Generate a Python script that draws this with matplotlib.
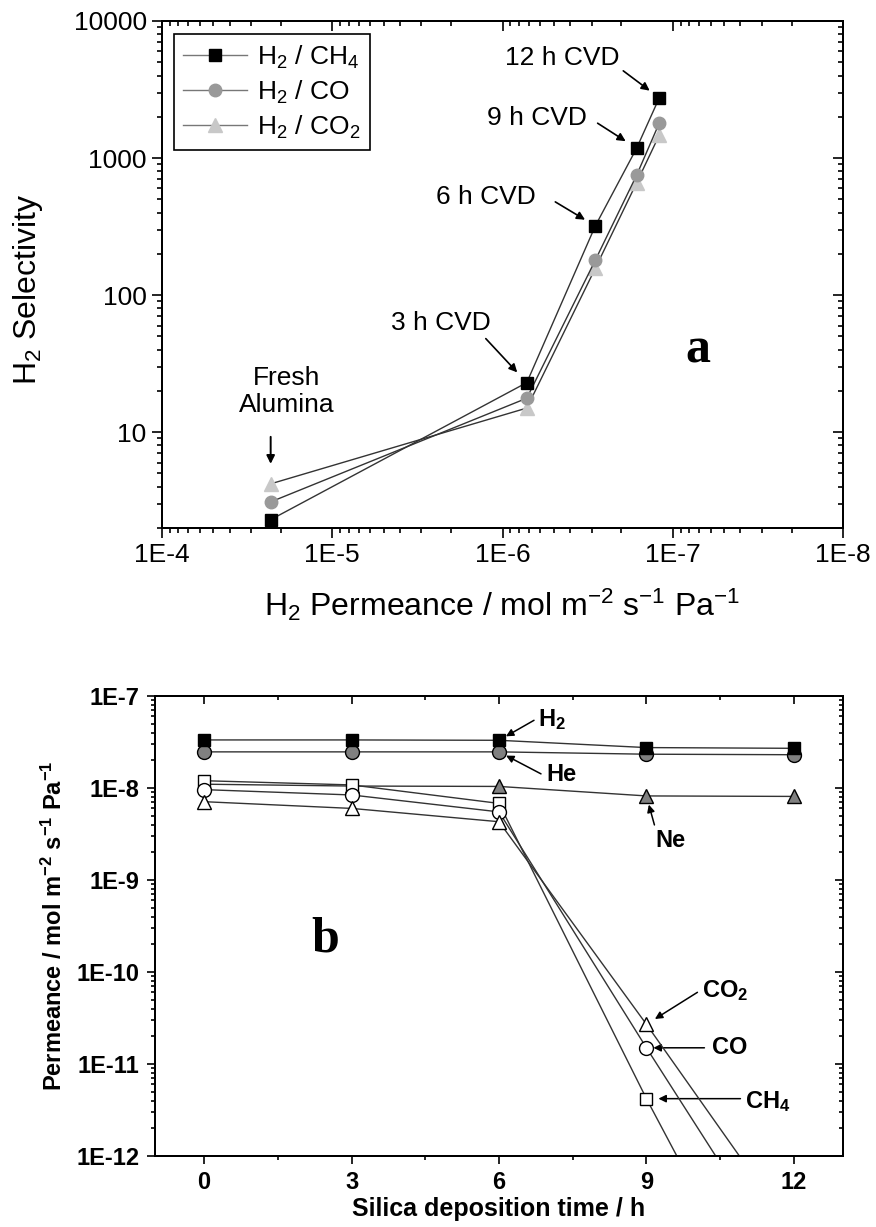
import matplotlib
matplotlib.use('Agg')
import matplotlib.pyplot as plt
import numpy as np
from matplotlib import font_manager
from matplotlib.ticker import FixedLocator, FixedFormatter, NullFormatter, LogLocator

# ---- panel a: H2 selectivity vs H2 permeance (fresh alumina, 3/6/9/12 h CVD)
h2_perm = [2.3e-5, 7.2e-7, 2.85e-7, 1.63e-7, 1.2e-7]
sel_ch4 = [2.3, 23, 320, 1180, 2750]
sel_co = [3.1, 17.7, 180, 750, 1800]
sel_co2 = [4.2, 15, 157, 660, 1470]
stage_labels = ['Fresh\nAlumina', '3 h CVD', '6 h CVD', '9 h CVD', '12 h CVD']
xticks_a = [1e-4, 1e-5, 1e-6, 1e-7, 1e-8]
xticklabels_a = ['1E-4', '1E-5', '1E-6', '1E-7', '1E-8']
yticks_a = [10, 100, 1000, 10000]
yticklabels_a = ['10', '100', '1000', '10000']

# ---- panel b: permeance vs silica deposition time
dep_time = [0, 3, 6, 9, 12]
perm_h2 = [3.33e-8, 3.33e-8, 3.3e-8, 2.75e-8, 2.7e-8]
perm_he = [2.47e-8, 2.47e-8, 2.47e-8, 2.33e-8, 2.3e-8]
perm_ne = [1.1e-8, 1.05e-8, 1.04e-8, 8.2e-9, 8.1e-9]
perm_ch4 = [1.2e-8, 1.08e-8, 6.8e-9, 4.2e-12, 4e-15]
perm_co = [9.6e-9, 8.4e-9, 5.5e-9, 1.5e-11, 4.7e-14]
perm_co2 = [7.1e-9, 6.0e-9, 4.3e-9, 2.7e-11, 1.45e-13]
xticks_b = [0, 3, 6, 9, 12]
yticks_b = [1e-12, 1e-11, 1e-10, 1e-9, 1e-8, 1e-7]
yticklabels_b = ['1E-12', '1E-11', '1E-10', '1E-9', '1E-8', '1E-7']


def pick(fams):
    for f in fams:
        try:
            font_manager.findfont(font_manager.FontProperties(family=f),
                                  fallback_to_default=False)
            return f
        except ValueError:
            pass
    return 'DejaVu Sans'


sans = pick(['Liberation Sans', 'Arial'])
narrow = pick(['Liberation Sans Narrow', 'Arial Narrow', 'Liberation Sans'])
bsize = 20 if 'Narrow' in narrow else 17

plt.rcParams['font.family'] = [sans, 'DejaVu Sans']
plt.rcParams['mathtext.fontset'] = 'custom'
plt.rcParams['mathtext.rm'] = sans
plt.rcParams['mathtext.it'] = sans + ':italic'
plt.rcParams['mathtext.bf'] = narrow + ':bold'
plt.rcParams['axes.linewidth'] = 1.3

W, H = 876, 1227
fig = plt.figure(figsize=(W / 100, H / 100), dpi=100)


def box(l, t, r, b):
    return [l / W, 1 - b / H, (r - l) / W, (b - t) / H]


def off(dx, dy):
    # pixel offset (y down) -> points (y up)
    return (dx * 0.72, -dy * 0.72)


# =================== panel a
ax1 = fig.add_axes(box(162, 21, 843, 528))
ax1.set_xscale('log')
ax1.set_yscale('log')

lc = '#333333'
ax1.plot(h2_perm, sel_ch4, '-s', color=lc, lw=1, mfc='black', mec='black', ms=8,
         label=r'H$_2$ / CH$_4$', zorder=5)
ax1.plot(h2_perm, sel_co, '-o', color=lc, lw=1, mfc='#999999', mec='#999999', ms=9,
         label=r'H$_2$ / CO', zorder=4)
ax1.plot(h2_perm, sel_co2, '-^', color=lc, lw=1, mfc='#c8c8c8', mec='#c8c8c8', ms=10,
         label=r'H$_2$ / CO$_2$', zorder=3)

ax1.set_xlim(1e-4, 1e-8)
ax1.set_ylim(2, 1e4)
ax1.xaxis.set_major_locator(FixedLocator(xticks_a))
ax1.xaxis.set_major_formatter(FixedFormatter(xticklabels_a))
ax1.yaxis.set_major_locator(FixedLocator(yticks_a))
ax1.yaxis.set_major_formatter(FixedFormatter(yticklabels_a))
ax1.xaxis.set_minor_locator(LogLocator(base=10, subs=np.arange(2, 10), numticks=20))
ax1.yaxis.set_minor_locator(LogLocator(base=10, subs=np.arange(2, 10), numticks=20))
ax1.xaxis.set_minor_formatter(NullFormatter())
ax1.yaxis.set_minor_formatter(NullFormatter())
ax1.tick_params(which='both', direction='out', top=False, right=False,
                labelsize=19, width=1.2)
ax1.tick_params(which='major', length=7, pad=4)
ax1.tick_params(which='minor', length=3.5)

# mirrored inner ticks on top / right
axr = ax1.twinx()
axr.set_yscale('log')
axr.set_ylim(ax1.get_ylim())
axr.yaxis.set_major_locator(FixedLocator(yticks_a))
axr.yaxis.set_minor_locator(LogLocator(base=10, subs=np.arange(2, 10), numticks=20))
axr.tick_params(which='both', direction='in', labelright=False, width=1.2)
axr.tick_params(which='major', length=7)
axr.tick_params(which='minor', length=3.5)
axt = ax1.twiny()
axt.set_xscale('log')
axt.set_xlim(ax1.get_xlim())
axt.xaxis.set_major_locator(FixedLocator(xticks_a))
axt.xaxis.set_minor_locator(LogLocator(base=10, subs=np.arange(2, 10), numticks=20))
axt.tick_params(which='both', direction='in', labeltop=False, width=1.2)
axt.tick_params(which='major', length=7)
axt.tick_params(which='minor', length=3.5)

ax1.set_xlabel(r'H$_2$ Permeance / mol m$^{-2}$ s$^{-1}$ Pa$^{-1}$', fontsize=23)
ax1.xaxis.set_label_coords(0.5, -0.115)
ax1.set_ylabel(r'H$_2$ Selectivity', fontsize=23)
ax1.yaxis.set_label_coords(-0.172, 0.47)

leg = ax1.legend(loc='upper left', bbox_to_anchor=(0.018, 0.974), borderaxespad=0,
                 fontsize=19, frameon=True, fancybox=False, handlelength=2.4,
                 handletextpad=0.4, labelspacing=0.3, borderpad=0.35)
leg.get_frame().set_edgecolor('black')
leg.get_frame().set_linewidth(1.2)
leg.get_frame().set_alpha(1)
for ln in leg.get_lines():
    ln.set_color('#777777')

arrow_kw = dict(arrowstyle='-|>', color='black', lw=1.2, mutation_scale=12, shrinkA=0)

# CVD labels (text and arrow anchored at the H2/CH4 points)
cvd = [(1, (-86, -60), (-41, -44), 14),
       (2, (-109, -29), (-40, -24), 12),
       (3, (-100, -30), (-39, -25), 13),
       (4, (-97, -40), (-36, -27), 12)]
for i, txt_off, tail_off, shrink in cvd:
    p = (h2_perm[i], sel_ch4[i])
    ax1.annotate(stage_labels[i], xy=p, xytext=off(*txt_off), textcoords='offset points',
                 ha='center', va='center', fontsize=19)
    ax1.annotate('', xy=p, xytext=off(*tail_off), textcoords='offset points',
                 arrowprops=dict(shrinkB=shrink * 0.72, **arrow_kw))

pf = (h2_perm[0], sel_co2[0])
ax1.annotate(stage_labels[0], xy=pf, xytext=off(16, -92), textcoords='offset points',
             ha='center', va='center', fontsize=19, linespacing=1.15)
ax1.annotate('', xy=pf, xytext=off(0, -47), textcoords='offset points',
             arrowprops=dict(arrowstyle='-|>', color='black', lw=1.4, mutation_scale=12,
                             shrinkA=0, shrinkB=20 * 0.72))

ax1.text(0.787, 0.351, 'a', transform=ax1.transAxes, ha='center', va='center',
         fontsize=36, fontweight='bold', family=['Liberation Serif', 'DejaVu Serif'])

# =================== panel b
ax2 = fig.add_axes(box(155, 696, 843, 1156))
ax2.set_yscale('log')

bkw = dict(color=lc, lw=1, mec='black', mew=1)
ax2.plot(dep_time, perm_h2, '-s', mfc='black', ms=9, zorder=6, **bkw)
ax2.plot(dep_time, perm_he, '-o', mfc='#808080', ms=10, zorder=5, **bkw)
ax2.plot(dep_time, perm_ne, '-^', mfc='#808080', ms=10, zorder=3, **bkw)
ax2.plot(dep_time, perm_ch4, '-s', mfc='white', ms=9, zorder=4, **bkw)
ax2.plot(dep_time, perm_co, '-o', mfc='white', ms=10, zorder=4, **bkw)
ax2.plot(dep_time, perm_co2, '-^', mfc='white', ms=10, zorder=4, **bkw)

ax2.set_xlim(-1, 13)
ax2.set_ylim(1e-12, 1e-7)
ax2.xaxis.set_major_locator(FixedLocator(xticks_b))
ax2.xaxis.set_minor_locator(FixedLocator([1.5, 4.5, 7.5, 10.5]))
ax2.yaxis.set_major_locator(FixedLocator(yticks_b))
ax2.yaxis.set_major_formatter(FixedFormatter(yticklabels_b))
ax2.yaxis.set_minor_locator(LogLocator(base=10, subs=np.arange(2, 10), numticks=20))
ax2.yaxis.set_minor_formatter(NullFormatter())
ax2.tick_params(which='both', direction='out', top=False, right=False, width=1.2)
ax2.tick_params(which='major', length=6, pad=5)
ax2.tick_params(which='minor', length=3)
for lab in ax2.get_xticklabels() + ax2.get_yticklabels():
    lab.set_fontfamily(narrow)
    lab.set_fontweight('bold')
    lab.set_fontsize(bsize)

axr2 = ax2.twinx()
axr2.set_yscale('log')
axr2.set_ylim(ax2.get_ylim())
axr2.yaxis.set_major_locator(FixedLocator(yticks_b))
axr2.yaxis.set_minor_locator(LogLocator(base=10, subs=np.arange(2, 10), numticks=20))
axr2.tick_params(which='both', direction='in', labelright=False, width=1.2)
axr2.tick_params(which='major', length=6)
axr2.tick_params(which='minor', length=3)
axt2 = ax2.twiny()
axt2.set_xlim(ax2.get_xlim())
axt2.xaxis.set_major_locator(FixedLocator(xticks_b))
axt2.xaxis.set_minor_locator(FixedLocator([1.5, 4.5, 7.5, 10.5]))
axt2.tick_params(which='both', direction='in', labeltop=False, width=1.2)
axt2.tick_params(which='major', length=6)
axt2.tick_params(which='minor', length=3)

bfont = dict(family=narrow, weight='bold', size=bsize)
ax2.set_xlabel('Silica deposition time / h', fontdict=dict(bfont, size=bsize + 1))
ax2.xaxis.set_label_coords(0.5, -0.09)
ax2.set_ylabel(r'Permeance / mol m$^{\mathbf{-2}}$ s$^{\mathbf{-1}}$ Pa$^{\mathbf{-1}}$',
               fontdict=bfont)
ax2.yaxis.set_label_coords(-0.128, 0.5)

labels_b = [(r'H$_\mathbf{2}$', (6, perm_h2), (53, -21), (35, -20), 8),
            ('He', (6, perm_he), (62, 23), (42, 22), 8),
            ('Ne', (9, perm_ne), (24, 45), (8, 29), 9),
            (r'CO$_\mathbf{2}$', (9, perm_co2), (79, -34), (51, -32), 10),
            ('CO', (9, perm_co), (83, 0), (58, 0), 7),
            (r'CH$_\mathbf{4}$', (9, perm_ch4), (121, 3), (94, 0), 12)]
for txt, (t, series), txt_off, tail_off, shrink in labels_b:
    p = (t, series[dep_time.index(t)])
    ax2.annotate(txt, xy=p, xytext=off(*txt_off), textcoords='offset points',
                 ha='center', va='center', **dict(fontfamily=narrow, fontweight='bold',
                                                  fontsize=bsize))
    ax2.annotate('', xy=p, xytext=off(*tail_off), textcoords='offset points',
                 arrowprops=dict(arrowstyle='-|>', color='black', lw=1.1,
                                 mutation_scale=11, shrinkA=0, shrinkB=shrink * 0.72))

ax2.text(0.247, 0.47, 'b', transform=ax2.transAxes, ha='center', va='center',
         fontsize=36, fontweight='bold', family=['Liberation Serif', 'DejaVu Serif'])

fig.savefig('out.png', dpi=100)
